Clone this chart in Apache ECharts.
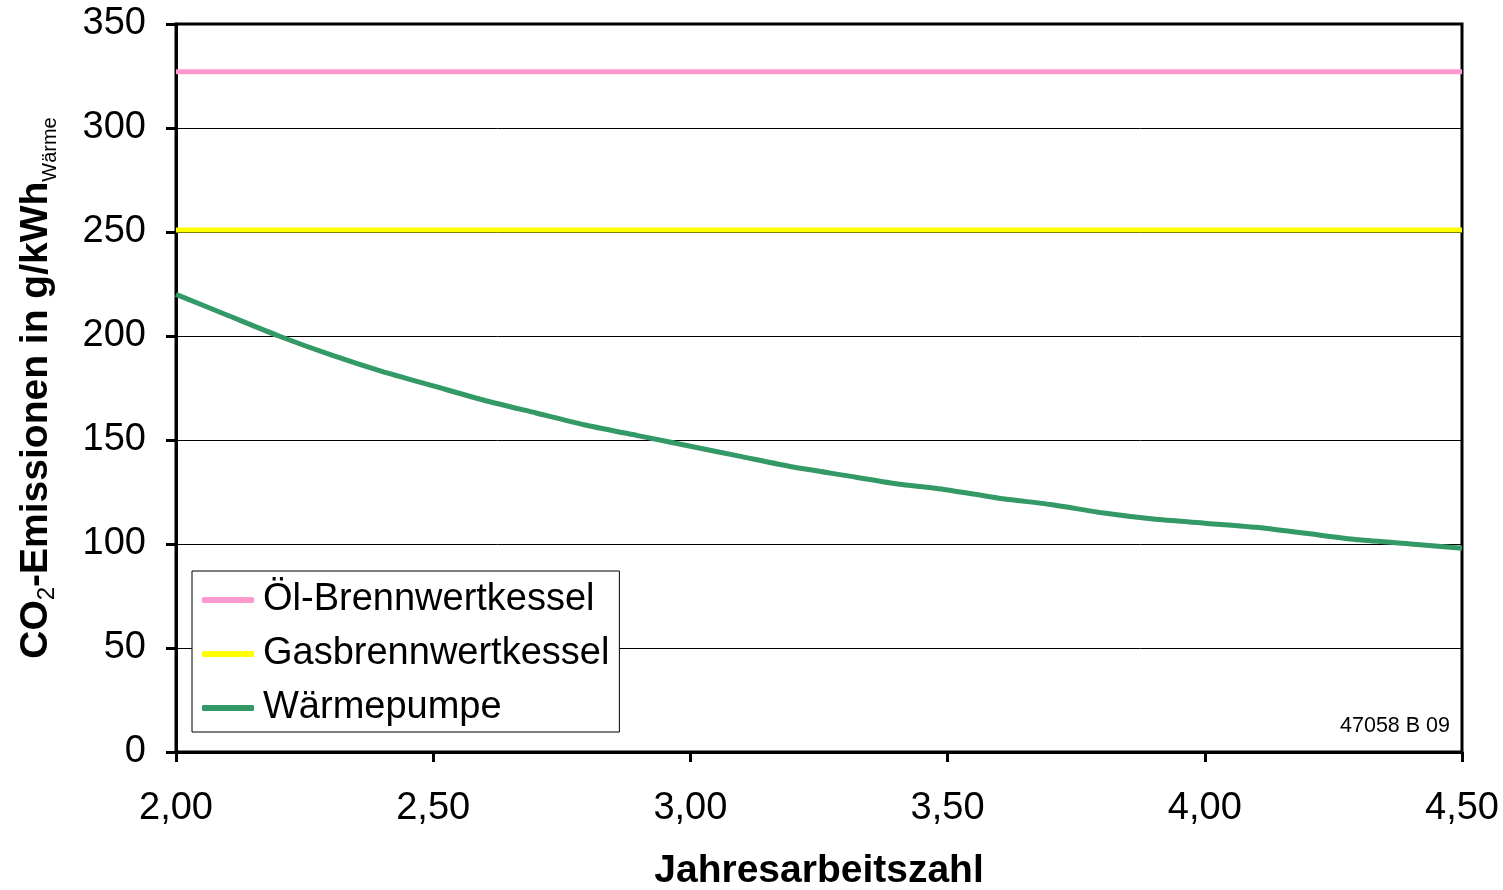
<!DOCTYPE html>
<html>
<head>
<meta charset="utf-8">
<script src="https://cdn.jsdelivr.net/npm/echarts@6/dist/echarts.min.js"></script>
<style>
  html, body { margin: 0; padding: 0; background: #fff; }
  #chart { width: 1503px; height: 890px; }
</style>
</head>
<body>
<div id="chart"></div>
<script>
// Jahresarbeitszahl (x) und CO2-Werte in g/kWh
const jaz = [2.0, 2.1, 2.2, 2.3, 2.4, 2.5, 2.6, 2.7, 2.8, 2.9, 3.0, 3.1, 3.2,
             3.3, 3.4, 3.5, 3.6, 3.7, 3.8, 3.9, 4.0, 4.1, 4.2, 4.3, 4.4, 4.5]
const waermepumpe = [220, 210, 200, 191, 183, 176, 169, 163, 157, 152, 147, 142, 137,
                     133, 129, 126, 122, 119, 115, 112, 110, 108, 105, 102, 100, 98]
const oelKessel = [327, 327]
const gasKessel = [251, 251]
const seriesNames = ["Öl-Brennwertkessel", "Gasbrennwertkessel", "Wärmepumpe"]

let chart = echarts.init(document.getElementById("chart"))

let font = "Liberation Sans, Arial, sans-serif"
let ends = [jaz[0], jaz[jaz.length - 1]]

let option = {
    animation: false,
    backgroundColor: "#fff",
    textStyle: { fontFamily: font },
    grid: {
        left: 176,
        right: 41,
        top: 24,
        bottom: 138,
        outerBoundsMode: "none",
        containLabel: false,
        show: true,
        borderColor: "#000",
        borderWidth: 3,
        backgroundColor: "transparent"
    },
    legend: {
        orient: "vertical",
        left: 192,
        top: 571,
        padding: [10, 10, 5, 10],
        backgroundColor: "#fff",
        borderColor: "#000",
        borderWidth: 1,
        itemWidth: 52,
        itemHeight: 6,
        itemGap: 16,
        icon: "roundRect",
        data: seriesNames,
        textStyle: { fontSize: 38, lineHeight: 38, color: "#000", fontFamily: font, padding: [0, 0, 0, 4] }
    },
    xAxis: {
        type: "value",
        min: 2,
        max: 4.5,
        interval: 0.5,
        name: "Jahresarbeitszahl",
        nameLocation: "middle",
        nameGap: 100,
        nameTextStyle: { fontSize: 39, fontWeight: "bold", color: "#000", fontFamily: font },
        axisLine: { lineStyle: { color: "#000", width: 3 } },
        axisTick: { show: true, length: 10, lineStyle: { color: "#000", width: 3 } },
        axisLabel: {
            fontSize: 38, color: "#000", margin: 38,
            formatter: function (v) { return v.toFixed(2).replace(".", ",") }
        },
        splitLine: { show: false }
    },
    yAxis: {
        type: "value",
        min: 0,
        max: 350,
        interval: 50,
        name: "{b|CO}{s|2}{b|-Emissionen in g/kWh}{w|Wärme}",
        nameLocation: "middle",
        nameRotate: 90,
        nameGap: 120,
        nameTextStyle: {
            rich: {
                b: { fontSize: 39, fontWeight: "bold", color: "#000", fontFamily: font, lineHeight: 46, verticalAlign: "bottom" },
                s: { fontSize: 24, color: "#000", fontFamily: font, lineHeight: 46, verticalAlign: "bottom", padding: [0, 0, -3, 0] },
                w: { fontSize: 20, color: "#000", fontFamily: font, lineHeight: 46, verticalAlign: "bottom", padding: [0, 0, -4, 0] }
            }
        },
        axisLine: { show: true, lineStyle: { color: "#000", width: 3 } },
        axisTick: { show: true, length: 10, lineStyle: { color: "#000", width: 3 } },
        axisLabel: { fontSize: 38, color: "#000", margin: 30 },
        splitLine: { show: true, lineStyle: { color: "#000", width: 1 } }
    },
    graphic: [{
        type: "text",
        right: 53,
        top: 715,
        style: { text: "47058 B 09", fontSize: 21.5, fill: "#000", fontFamily: font }
    }],
    series: [
        {
            name: seriesNames[0],
            type: "line",
            data: ends.map((x, i) => [x, oelKessel[i]]),
            symbol: "none",
            itemStyle: { color: "#ff99cc" },
            lineStyle: { color: "#ff99cc", width: 5 }
        },
        {
            name: seriesNames[1],
            type: "line",
            data: ends.map((x, i) => [x, gasKessel[i]]),
            symbol: "none",
            itemStyle: { color: "#ffff00" },
            lineStyle: { color: "#ffff00", width: 5 }
        },
        {
            name: seriesNames[2],
            type: "line",
            data: jaz.map((x, i) => [x, waermepumpe[i]]),
            symbol: "none",
            smooth: 0.2,
            itemStyle: { color: "#339966" },
            lineStyle: { color: "#339966", width: 5 }
        }
    ]
}
chart.setOption(option)
</script>
</body>
</html>
